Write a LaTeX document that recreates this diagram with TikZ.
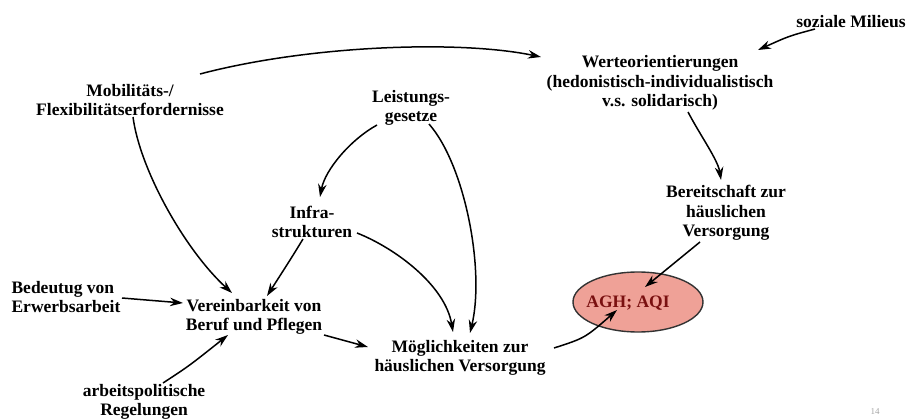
\documentclass[tikz,border=0pt]{standalone}
\usepackage{fontspec}
\setmainfont{Liberation Serif}
\usetikzlibrary{arrows.meta,calc,shapes.geometric}
\definecolor{salmon}{HTML}{EFA197}
\definecolor{aghred}{HTML}{7A1010}
\tikzset{
  lbl/.style={inner sep=0pt, align=center, font=\fontsize{17.5}{19.5}\selectfont\bfseries},
  arr/.style={line width=1.5pt, -{Stealth[length=13pt,width=8.5pt]}},
}
\begin{document}
\begin{tikzpicture}[x=1pt,y=-1pt]
\useasboundingbox[fill=white] (0,0) rectangle (913,420);
% nodes
\node[lbl] (soz) at (851,22) {soziale Milieus};
\node[lbl] (wert) at (660,83) {Werteorientierungen\\(hedonistisch-individualistisch\\v.s. solidarisch)};
\node[lbl] (mob) at (130,100) {Mobilitäts-/\\Flexibilitätserfordernisse};
\node[lbl] (lei) at (411,108) {Leistungs-\\gesetze};
\node[lbl] (inf) at (312,222) {Infra-\\strukturen};
\node[lbl] (ber) at (726,213) {Bereitschaft zur\\häuslichen\\Versorgung};
\node[lbl, align=left] (bed) at (66,297) {Bedeutug von\\Erwerbsarbeit};
\node[lbl] (ver) at (254,317) {Vereinbarkeit von\\Beruf und Pflegen};
\node[lbl] (mog) at (460,358) {Möglichkeiten zur\\häuslichen Versorgung};
\node[lbl] (arb) at (144,402) {arbeitspolitische\\Regelungen};
\node[ellipse, draw=black!80, line width=1.4pt, fill=salmon, minimum width=130pt, minimum height=60pt, inner sep=0pt] (agh) at (638,302) {};
\node[lbl, text=aghred] (aghtxt) at (628,303) {AGH; AQI};
\node[inner sep=0pt, font=\fontsize{9}{10}\selectfont, text=black!35] (num) at (875,412) {14};
% connectors
\draw[arr] ($(mob)+(70,-26)$) .. controls ($(mob)+(180,-55)$) and ($(wert)+(-200,-43)$) .. ($(wert)+(-119,-26)$);
\draw[arr] ($(soz)+(-36,7)$) .. controls ($(soz)+(-62,14)$) .. ($(wert)+(98,-33)$);
\draw[arr] ($(wert)+(28,29)$) .. controls ($(wert)+(40,52)$) and ($(ber)+(-8,-53)$) .. ($(ber)+(-5,-33)$);
\draw[arr] ($(mob)+(3,17)$) .. controls ($(mob)+(10,70)$) and ($(ver)+(-69,-67)$) .. ($(ver)+(-22,-24)$);
\draw[arr] ($(lei)+(-34,17)$) .. controls ($(lei)+(-61,32)$) and ($(inf)+(13,-52)$) .. ($(inf)+(8,-25)$);
\draw[arr] ($(lei)+(18,16)$) .. controls ($(lei)+(54,57)$) and ($(mog)+(25,-88)$) .. ($(mog)+(10,-25)$);
\draw[arr] ($(inf)+(-9,17)$) .. controls ($(inf)+(-20,35)$) .. ($(ver)+(13,-21)$);
\draw[arr] ($(inf)+(45,11)$) .. controls ($(inf)+(83,26)$) and ($(mog)+(-15,-73)$) .. ($(mog)+(-7,-26)$);
\draw[arr] ($(bed)+(56,1)$) -- ($(ver)+(-71,-14)$);
\draw[arr] ($(arb)+(19,-19)$) .. controls ($(arb)+(45,-36)$) .. ($(ver)+(-26,18)$);
\draw[arr] ($(ver)+(70,18)$) -- ($(mog)+(-92,-11)$);
\draw[arr] ($(mog)+(94,-10)$) .. controls ($(mog)+(125,-20)$) .. ($(agh)+(-21,8)$);
\draw[arr] ($(ber)+(-26,29)$) -- ($(agh)+(7,-15)$);
\end{tikzpicture}
\end{document}
